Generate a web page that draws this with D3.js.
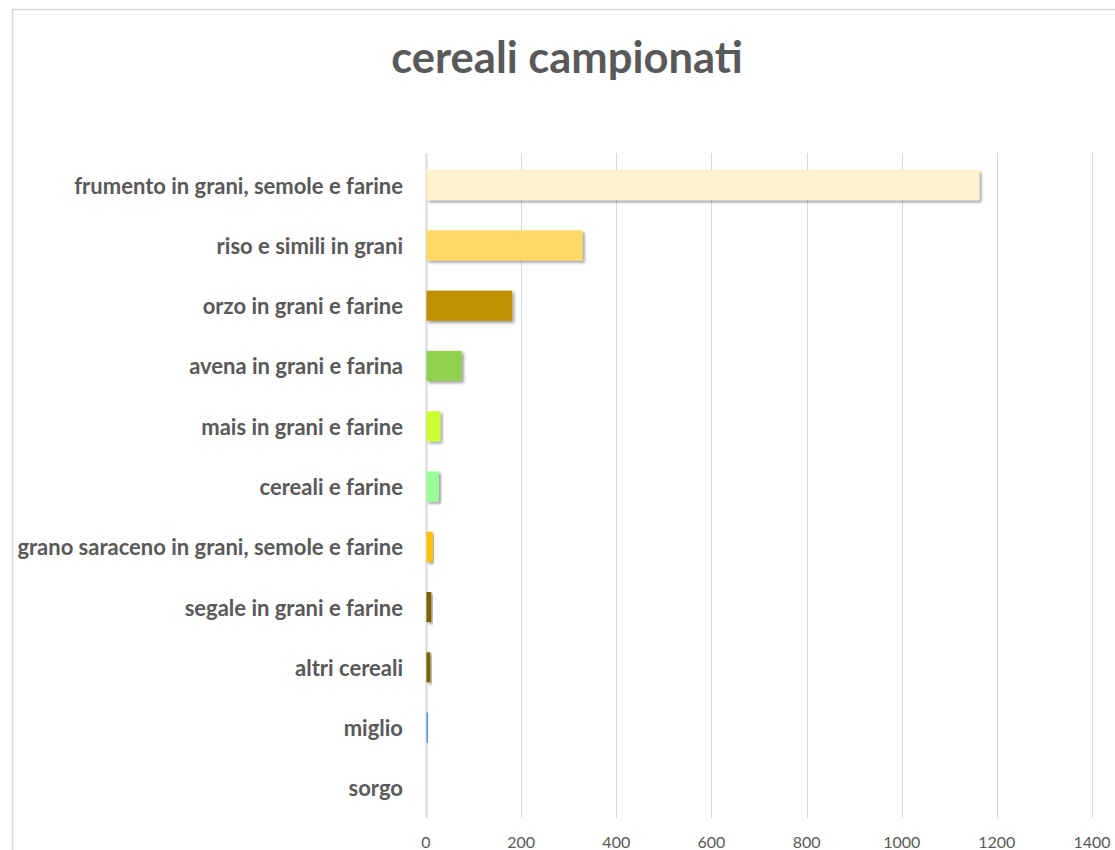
<!DOCTYPE html>
<html>
<head>
<meta charset="utf-8">
<script src="https://cdn.jsdelivr.net/npm/d3@7"></script>
<style>
  html, body { margin: 0; padding: 0; background: #ffffff; }
  svg { display: block; }
</style>
</head>
<body>
<svg id="chart" width="1115" height="850"></svg>
<script>
const categories = [
  "frumento in grani, semole e farine",
  "riso e simili in grani",
  "orzo in grani e farine",
  "avena in grani e farina",
  "mais in grani e farine",
  "cereali e farine",
  "grano saraceno in grani, semole e farine",
  "segale in grani e farine",
  "altri cereali",
  "miglio",
  "sorgo"
];
const values = [1162, 328, 180, 74, 29, 26, 13, 10, 8, 2, 0];
const barColors = ["#FFF2CC", "#FFD966", "#BF9000", "#92D050", "#CCFF33", "#99FF99", "#FFC000", "#7F6000", "#7F6000", "#5B9BD5", "#A5A5A5"];
const tickValues = [0, 200, 400, 600, 800, 1000, 1200, 1400];
const titleText = "cereali campionati";

const svg = d3.select("#chart");
const defs = svg.append("defs");
const f = defs.append("filter").attr("id", "shadow")
  .attr("x", "-10%").attr("y", "-30%").attr("width", "130%").attr("height", "180%");
f.append("feDropShadow").attr("dx", 2).attr("dy", 2).attr("stdDeviation", 1.6)
  .attr("flood-color", "#000").attr("flood-opacity", 0.4);

// chart border
svg.append("rect").attr("x", 12.5).attr("y", 9.5).attr("width", 1200).attr("height", 900)
  .attr("fill", "#fff").attr("stroke", "#d9d9d9").attr("stroke-width", 1.5);

const x = d3.scaleLinear().domain([0, 1400]).range([426, 1092]);
const y = d3.scaleBand().domain(categories).range([155, 818]).paddingInner(0.5).paddingOuter(0.25);

// gridlines
svg.append("g").selectAll("line").data(tickValues).join("line")
  .attr("x1", d => Math.round(x(d)) + 0.5).attr("x2", d => Math.round(x(d)) + 0.5)
  .attr("y1", 153).attr("y2", 818)
  .attr("stroke", "#d9d9d9").attr("stroke-width", d => d === 0 ? 2 : 1);

// tick labels
svg.append("g").selectAll("text").data(tickValues).join("text")
  .attr("x", d => x(d)).attr("y", 841)
  .attr("text-anchor", "middle").attr("dominant-baseline", "central")
  .attr("font-family", "Lato, 'Open Sans', sans-serif").attr("font-size", 16)
  .attr("fill", "#595959").text(d => d);

// bars
const data = categories.map((c, i) => ({ c, v: values[i], col: barColors[i] }));
svg.append("g").selectAll("rect").data(data.filter(d => d.v > 0)).join("rect")
  .attr("x", x(0) + 0.5).attr("y", d => y(d.c))
  .attr("width", d => Math.max(1.6, x(d.v) - x(0)))
  .attr("height", y.bandwidth())
  .attr("fill", d => d.col)
  .attr("filter", d => (x(d.v) - x(0)) > 3 ? "url(#shadow)" : null);

// category labels
svg.append("g").selectAll("text").data(categories).join("text")
  .attr("x", 403).attr("y", d => y(d) + y.bandwidth() / 2)
  .attr("text-anchor", "end").attr("dominant-baseline", "central")
  .attr("font-family", "Lato, 'Open Sans', sans-serif").attr("font-weight", "bold")
  .attr("font-size", 22).attr("fill", "#595959").text(d => d);

// title
svg.append("text").attr("x", 567).attr("y", 73)
  .attr("text-anchor", "middle")
  .attr("font-family", "Lato, 'Open Sans', sans-serif").attr("font-weight", "bold")
  .attr("font-size", 43.5).attr("fill", "#595959").text(titleText);
</script>
</body>
</html>
